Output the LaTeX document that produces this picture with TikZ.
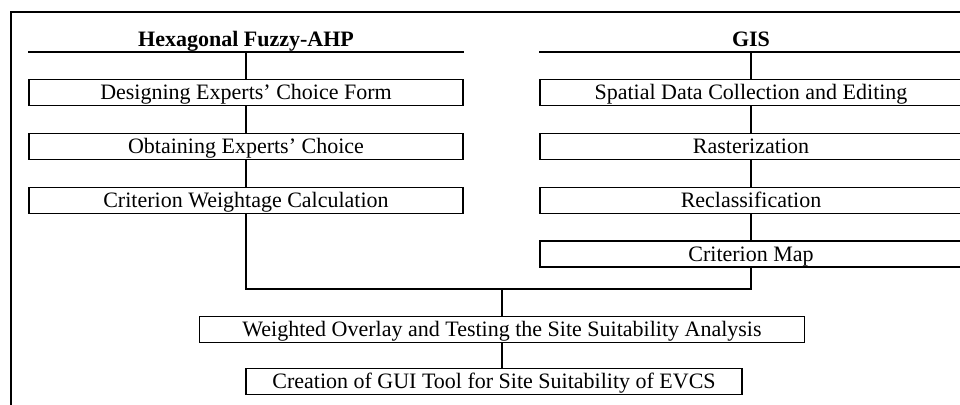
\documentclass[tikz,border=0pt]{standalone}
\usepackage{fontspec}
\setmainfont{Liberation Serif}
\usetikzlibrary{positioning}
\tikzset{
  stage/.style={draw, line width=1.3pt, inner xsep=0pt, inner ysep=0pt, minimum height=26pt,
    text height=20pt, text depth=6pt, font=\fontsize{22}{24}\selectfont},
  hfabox/.style={stage, minimum width=434pt},
  gisbox/.style={stage, minimum width=422pt},
  head/.style={font=\fontsize{22}{24}\selectfont\bfseries, inner sep=0pt, anchor=base},
  link/.style={line width=1.3pt}
}

\begin{document}
\begin{tikzpicture}[x=1pt, y=-1pt, node distance=26.5pt]
  \useasboundingbox (0,0) rectangle (960,404);
  \draw[link] (11,410) -- (11,12) -- (970,12);

  % fuzzy AHP branch
  \node[head] (hfa) at (246,47) {Hexagonal Fuzzy-AHP};
  \coordinate (hfaline) at (246,52);
  \node[hfabox, below=27pt of hfaline] (design) {Designing Experts’ Choice Form};
  \node[hfabox, below=of design] (obtain) {Obtaining Experts’ Choice};
  \node[hfabox, below=of obtain] (weight) {Criterion Weightage Calculation};

  % GIS branch
  \node[head] (gis) at (751,47) {GIS};
  \coordinate (gisline) at (751,52);
  \node[gisbox, below=27pt of gisline] (spatial) {Spatial Data Collection and Editing};
  \node[gisbox, below=of spatial] (raster) {Rasterization};
  \node[gisbox, below=of raster] (reclass) {Reclassification};
  \node[gisbox, below=of reclass] (cmap) {Criterion Map};

  % combined steps
  \coordinate (join) at (502,289);
  \node[stage, minimum width=605pt, below=27pt of join] (overlay) {Weighted Overlay and Testing the Site Suitability Analysis};
  \node[stage, minimum width=496pt, anchor=north] (gui) at (494,368) {Creation of GUI Tool for Site Suitability of EVCS};

  \draw[link] (hfaline -| design.west) -- (hfaline -| design.east);
  \draw[link] (gisline -| spatial.west) -- (gisline -| spatial.east);
  \draw[link] (hfaline) -- (design);
  \draw[link] (design) -- (obtain);
  \draw[link] (obtain) -- (weight);
  \draw[link] (gisline) -- (spatial);
  \draw[link] (spatial) -- (raster);
  \draw[link] (raster) -- (reclass);
  \draw[link] (reclass) -- (cmap);
  \draw[link] (weight.south) |- (join) -| (cmap.south);
  \draw[link] (join) -- (overlay);
  \draw[link] (overlay.south) -- (overlay.south |- gui.north);
\end{tikzpicture}
\end{document}
